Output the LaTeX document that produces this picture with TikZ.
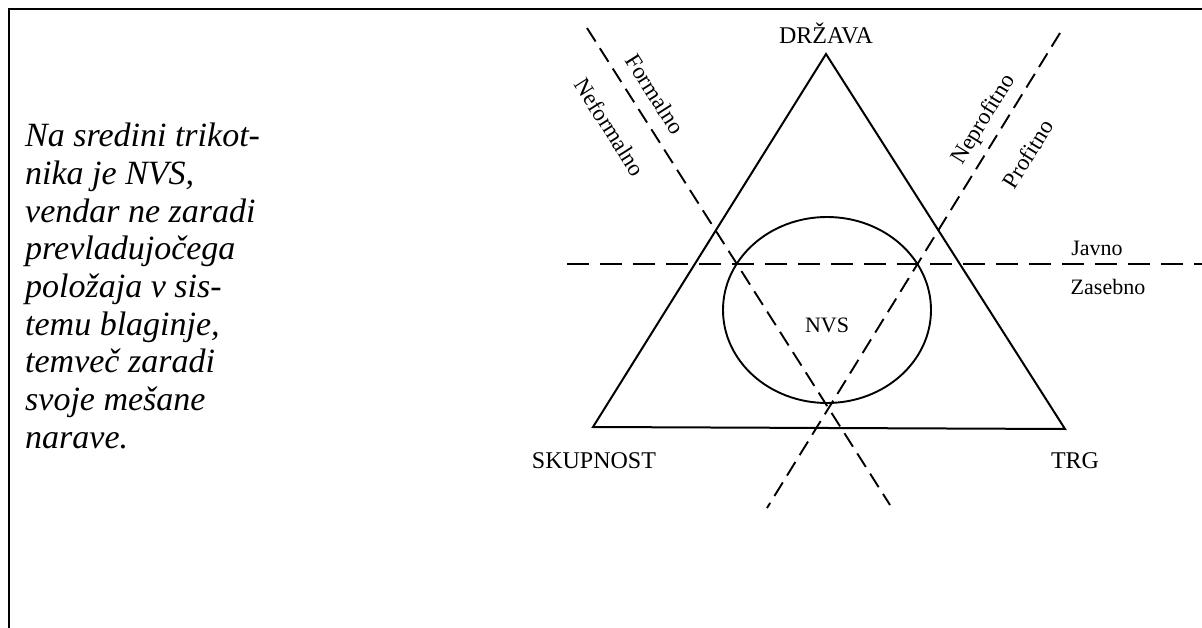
\documentclass[tikz,border=0pt]{standalone}
\usepackage{fontspec}
\setmainfont{Liberation Serif}
\usetikzlibrary{shapes.geometric}
\begin{document}
\begin{tikzpicture}[x=1pt,y=-1pt,
  edge/.style={line width=2pt, line join=miter},
  cut/.style={line width=1.9pt, dash pattern=on 16pt off 8pt},
  split/.style={line width=1.7pt, dash pattern=on 22pt off 11pt},
  lbl/.style={inner sep=0pt, font=\fontsize{24}{28}\selectfont},
  side/.style={inner sep=0pt, font=\fontsize{22}{26}\selectfont},
  tilt/.style={inner sep=0pt, font=\fontsize{23}{27}\selectfont},
  note/.style={inner sep=0pt, anchor=base west, font=\fontsize{34}{38}\itshape\selectfont}]
\useasboundingbox (0,0) rectangle (1202,628);

% page frame (top and left edges)
\draw[line width=2.2pt] (9,628) -- (9,9) -- (1202,9);

% explanatory text
\foreach \t [count=\i] in {Na sredini trikot-, nika je NVS{,}, vendar ne zaradi,
  prevladujočega, položaja v sis-, temu blaginje{,}, temveč zaradi,
  svoje mešane, narave.}
  \node[note] (line\i) at (25,109+37.7*\i) {\t};

% triangle of sectors
\coordinate (A) at (826,54);
\coordinate (B) at (593,427);
\coordinate (C) at (1065,429);
\draw[edge] (A) -- (B) -- (C) -- cycle;

\node[lbl] (drzava) at (826,33) {DRŽAVA};
\node[lbl] (skupnost) at (594,461) {SKUPNOST};
\node[lbl] (trg) at (1075,461) {TRG};

% third sector in the middle
\node[draw, line width=1.9pt, ellipse, minimum width=208pt, minimum height=186pt, inner sep=0pt] (ring) at (827,310) {};
\node[side] (nvs) at (827,325) {NVS};

% dividing lines
\coordinate (f1) at (587,28);
\coordinate (f2) at (890,505);
\coordinate (p1) at (1060,33);
\coordinate (p2) at (767,508);
\coordinate (j1) at (567,264);
\coordinate (j2) at (1202,264);
\draw[cut] (f1) -- (f2);
\draw[cut] (p1) -- (p2);
\draw[split] (j1) -- (j2);

\node[tilt, rotate=-57.6] (formalno) at (655,94) {Formalno};
\node[tilt, rotate=-57.6] (neformalno) at (610,127) {Neformalno};
\node[tilt, rotate=58.3] (neprofitno) at (984,120) {Neprofitno};
\node[tilt, rotate=58.3] (profitno) at (1028,154) {Profitno};
\node[side] (javno) at (1097,248) {Javno};
\node[side] (zasebno) at (1108,287) {Zasebno};
\end{tikzpicture}
\end{document}
